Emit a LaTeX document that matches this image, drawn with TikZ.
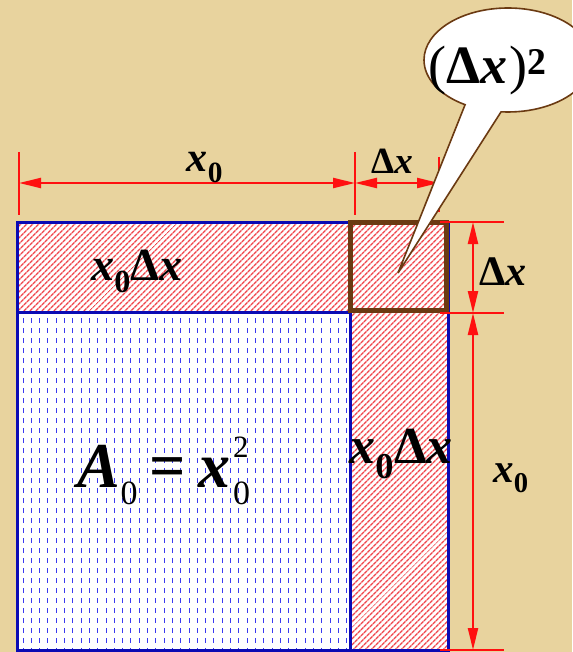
\documentclass[tikz,border=0pt]{standalone}
\usepackage{amsmath}
\usepackage{fontspec}
\setmainfont{Liberation Serif}
\usetikzlibrary{arrows.meta,patterns.meta,shapes.callouts}
\definecolor{parchment}{HTML}{E8D39E}
\definecolor{hatchred}{HTML}{F0454B}
\definecolor{edgeblue}{HTML}{0A0AB4}
\definecolor{edgebrown}{HTML}{6B3A12}
\definecolor{dimred}{HTML}{FF1010}
\definecolor{dashblue}{HTML}{3A3AF0}

\newcommand{\bx}{\textbf{\textit{x}}}
\newcommand{\bA}{\textbf{\textit{A}}}
\newcommand{\bD}{\textbf{Δ}}
\newcommand{\lowdigit}[1]{\raisebox{-17pt}{\fontsize{34}{34}\selectfont #1}}
\newcommand{\highdigit}[1]{\makebox[0pt][l]{\raisebox{30pt}{\fontsize{31}{31}\selectfont #1}}}

\begin{document}
\begin{tikzpicture}[
  x=1pt, y=-1pt,
  >={Triangle[length=22pt,width=10pt]},
  hatchregion/.style={
    preaction={fill=white},
    pattern={Lines[angle=45,distance=4pt,line width=1.4pt]},
    pattern color=hatchred
  },
  blueedge/.style={
    draw=edgeblue,
    line width=3pt
  },
  brownedge/.style={
    draw=edgebrown,
    line width=5pt
  },
  bluetick/.style={
    draw=dashblue,
    line width=1pt,
    dash pattern=on 5pt off 5pt
  },
  dimline/.style={
    <->,
    draw=dimred,
    line width=2.2pt
  },
  dimtick/.style={
    draw=dimred,
    line width=2pt
  },
  mathlabel/.style={
    inner sep=0pt,
    anchor=base,
    text=black
  },
  bubble/.style={
    ellipse callout,
    draw=edgebrown,
    fill=white,
    line width=1.6pt,
    minimum width=168pt,
    minimum height=104pt,
    callout pointer arc=26
  }
]

  % Background
  \fill[parchment] (0,0) rectangle (572,652);
  \useasboundingbox (0,0) rectangle (572,652);

  % --- Corners of the squares ---
  \coordinate (tl) at (17,222);
  \coordinate (tm) at (350,222);
  \coordinate (tr) at (448,222);
  \coordinate (ml) at (17,312);
  \coordinate (mm) at (350,312);
  \coordinate (mr) at (448,312);
  \coordinate (bl) at (17,650);
  \coordinate (bm) at (350,650);
  \coordinate (br) at (448,650);

  % Hatched strips
  \path[hatchregion] (tl) rectangle (mr);
  \path[hatchregion] (mm) rectangle (br);

  % Big square with blue ticks
  \fill[white] (ml) rectangle (bm);
  \begin{scope}
    \clip (ml) rectangle (bm);
    \foreach \cx in {0,...,40}
      \draw[bluetick] (23+8.3*\cx,318) -- (23+8.3*\cx,652);
  \end{scope}

  % Borders
  \draw[blueedge] (tl) rectangle (br);
  \draw[blueedge] (ml) -- (mm) -- (bm);
  \coordinate (sqa) at (350,222);
  \coordinate (sqb) at (446,310);
  \draw[brownedge] (sqa) rectangle (sqb);

  % --- Top dimension ---
  \coordinate (dxa) at (19,183);
  \coordinate (dxb) at (355,183);
  \coordinate (dxc) at (439,183);
  \draw[dimtick] (dxa) ++(0,-31) -- ++(0,63);
  \draw[dimtick] (dxb) ++(0,-31) -- ++(0,63);
  \draw[dimtick] (dxc) ++(0,-26) -- ++(0,55);
  \draw[dimline] (dxa) -- (dxb);
  \draw[dimline] (dxb) -- (dxc);

  % --- Right dimension ---
  \coordinate (dya) at (473,222);
  \coordinate (dyb) at (473,313);
  \coordinate (dyc) at (473,650);
  \draw[dimtick] (dya) ++(-33,0) -- ++(64,0);
  \draw[dimtick] (dyb) ++(-33,0) -- ++(64,0);
  \draw[dimtick] (dyc) ++(-33,0) -- ++(64,0);
  \draw[dimline] (dya) -- (dyb);
  \draw[dimline] (dyb) -- (dyc);

  % Labels
  \node[mathlabel, font=\fontsize{42}{42}\selectfont] (topxo) at (205,172) {$\bx_{\textbf{0}}$};
  \node[mathlabel, font=\fontsize{37}{37}\selectfont] (topdx) at (392,174) {\bD\bx};
  \node[mathlabel, font=\fontsize{42}{42}\selectfont] (rightdx) at (503,285) {\bD\bx};
  \node[mathlabel, font=\fontsize{41}{41}\selectfont] (rightxo) at (511,482) {$\bx_{\textbf{0}}$};
  \node[mathlabel, font=\fontsize{46}{46}\selectfont] (toparea) at (137,280) {$\bx_{\textbf{0}}\bD\bx$};
  \node[mathlabel, font=\fontsize{52}{52}\selectfont] (sidearea) at (401,463) {$\bx_{\textbf{0}}\bD\bx$};
  \node[mathlabel, font=\fontsize{64}{64}\selectfont] (bigarea) at (164,487)
    {\bA\lowdigit{0}\hspace{12pt}\textbf{=}\hspace{12pt}\bx\kern3pt\highdigit{2}\lowdigit{0}};

  % Callout for the corner square
  \coordinate (tip) at (398,273);
  \node[bubble, callout absolute pointer={(tip)}] (cloud) at (508,60) {};
  \node[mathlabel, font=\fontsize{54}{54}\selectfont] (cornerarea) at (488,84)
    {(\bD\bx\kern2pt)\textsuperscript{\textbf{2}}};

\end{tikzpicture}
\end{document}
